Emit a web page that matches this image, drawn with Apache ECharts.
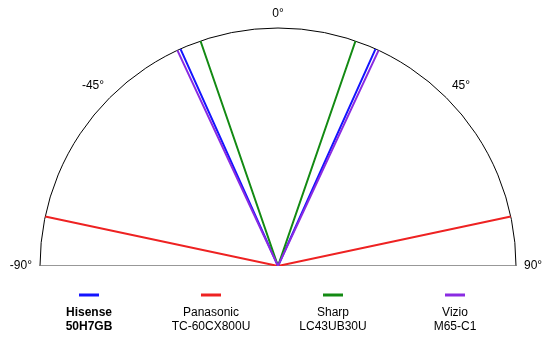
<!DOCTYPE html>
<html>
<head>
<meta charset="utf-8">
<script src="https://cdn.jsdelivr.net/npm/echarts@6/dist/echarts.min.js"></script>
<style>
  html, body { margin: 0; padding: 0; background: #fff; }
  #chart { width: 552px; height: 343px; }
</style>
</head>
<body>
<div id="chart"></div>
<script>
// viewing angle per TV (degrees each side of 0)
const brands = ['Hisense', 'Panasonic', 'Sharp', 'Vizio']
const modelNames = ['50H7GB', 'TC-60CX800U', 'LC43UB30U', 'M65-C1']
const viewAngles = [24.2, 78, 19, 25]
const colors = ['#1414ff', '#ee2222', '#138a13', '#8a2be2']
const angleTicks = [-90, -45, 0, 45, 90]

const chart = echarts.init(document.getElementById('chart'))
const font = '"Liberation Sans", Arial, Helvetica, sans-serif'

const rich = {}
colors.forEach((c, i) => {
    rich['i' + i] = { width: 20, height: 3, backgroundColor: c, lineHeight: 22, align: 'center' }
    rich['n' + i] = {
        width: 100, align: 'center', lineHeight: 14, fontSize: 12, fontFamily: font, color: '#000',
        fontWeight: i === 0 ? 'bold' : 'normal'
    }
})

const seriesArr = brands.map((b, i) => ({
    name: b,
    type: 'line',
    coordinateSystem: 'polar',
    symbol: 'none',
    silent: true,
    lineStyle: { color: colors[i], width: 2 },
    itemStyle: { color: colors[i] },
    data: [[1, -viewAngles[i]], [0, 0], [1, viewAngles[i]]],
    z: 3 + i
}))
// flat base line of the half circle
seriesArr.unshift({
    name: 'base',
    type: 'line',
    coordinateSystem: 'polar',
    symbol: 'none',
    silent: true,
    lineStyle: { color: '#777', width: 1.5 },
    data: [[1, angleTicks[0]], [0, 0], [1, angleTicks[angleTicks.length - 1]]],
    z: 2
})

chart.setOption({
    animation: false,
    polar: { center: [278, 266], radius: 238 },
    angleAxis: {
        type: 'value',
        min: angleTicks[0],
        max: angleTicks[angleTicks.length - 1],
        interval: 45,
        startAngle: 180,
        endAngle: 0,
        clockwise: true,
        axisLine: { lineStyle: { color: '#000', width: 1 } },
        axisTick: { show: false },
        splitLine: { show: false },
        axisLabel: {
            margin: 8,
            fontSize: 12,
            fontFamily: font,
            color: '#000',
            formatter: '{value}°'
        }
    },
    radiusAxis: {
        type: 'value', min: 0, max: 1, show: false,
        axisLine: { show: false }, axisLabel: { show: false }, splitLine: { show: false }, axisTick: { show: false }
    },
    legend: {
        data: brands,
        left: 29,
        top: 284,
        selectedMode: false,
        itemWidth: 0,
        itemHeight: 0,
        itemGap: 17,
        icon: 'rect',
        textStyle: { rich: rich },
        formatter: name => {
            const i = brands.indexOf(name)
            return '{i' + i + '|}\n{n' + i + '|' + brands[i] + '}\n{n' + i + '|' + modelNames[i] + '}'
        }
    },
    series: seriesArr
})
</script>
</body>
</html>
